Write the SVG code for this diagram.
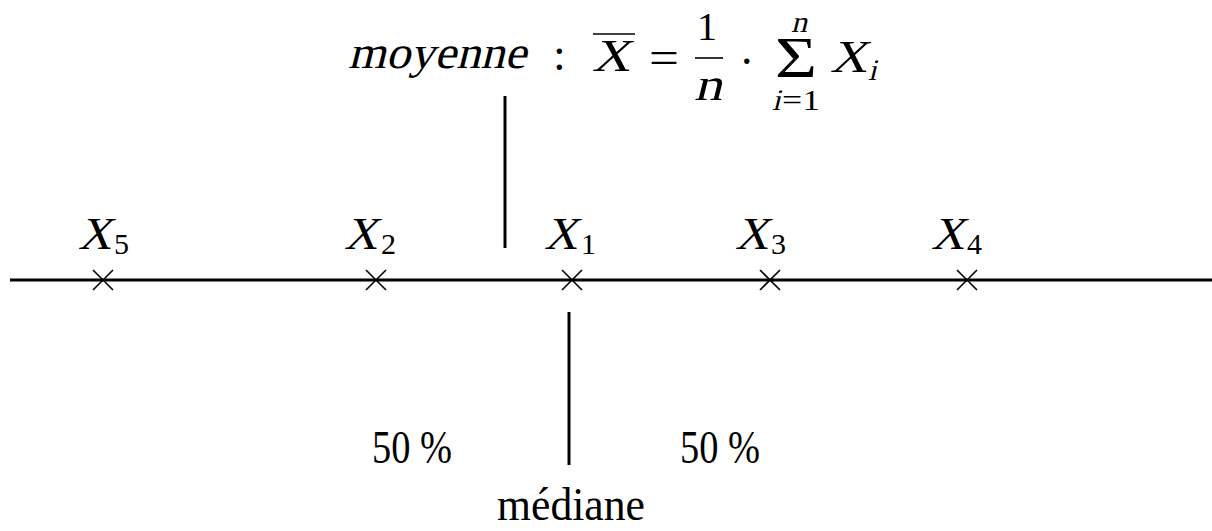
<svg xmlns="http://www.w3.org/2000/svg" width="1212" height="531" viewBox="0 0 1212 531">
<style>
.t{font-family:"Liberation Serif","Times New Roman",serif;fill:#000;font-style:normal}
.ln{stroke:#000;stroke-width:3;fill:none}
.thin{stroke:#000;stroke-width:1.6;fill:none}
.cr{stroke:#000;stroke-width:1.6;fill:none}
.big{font-size:46px}
.sub{font-size:30px}
</style>
<defs>
<path id="cross" d="M-10,-10 L10,10 M-10,10 L10,-10"/>
</defs>
<rect width="1212" height="531" fill="#fff"/>
<g id="connectors">
<line class="ln" x1="10" y1="280" x2="1212" y2="280"/>
<line class="ln" x1="505" y1="96" x2="505" y2="248"/>
<line class="ln" x1="569" y1="312" x2="569" y2="465"/>
</g>
<g id="formula">
<text class="t big" transform="translate(348,68) skewX(-14)" x="0" y="0" textLength="178" lengthAdjust="spacingAndGlyphs">moyenne</text>
<text class="t big" x="553" y="70">:</text>
<line class="thin" x1="593" y1="34" x2="635" y2="34"/>
<text class="t big" transform="translate(592,71) skewX(-14)" x="0" y="0" textLength="38" lengthAdjust="spacingAndGlyphs">X</text>
<text class="t big" x="649" y="73" textLength="30" lengthAdjust="spacingAndGlyphs">=</text>
<text class="t" x="697" y="40" font-size="41" textLength="20" lengthAdjust="spacingAndGlyphs">1</text>
<line class="thin" x1="695" y1="58" x2="723" y2="58"/>
<text class="t big" transform="translate(694,100) skewX(-14)" x="0" y="0" textLength="28" lengthAdjust="spacingAndGlyphs">n</text>
<text class="t big" x="741" y="64">.</text>
<text class="t" x="775" y="77" font-size="58" textLength="42" lengthAdjust="spacingAndGlyphs">Σ</text>
<text class="t sub" transform="translate(791,32) skewX(-14)" x="0" y="0" textLength="16" lengthAdjust="spacingAndGlyphs">n</text>
<text class="t sub" transform="translate(772,110) skewX(-14)" x="0" y="0">i</text>
<text class="t sub" x="782" y="110" textLength="38" lengthAdjust="spacingAndGlyphs">=1</text>
<text class="t big" transform="translate(830,72) skewX(-14)" x="0" y="0" textLength="37" lengthAdjust="spacingAndGlyphs">X</text>
<text class="t sub" transform="translate(868,80) skewX(-14)" x="0" y="0">i</text>
</g>
<g id="p5"><use href="#cross" class="cr" x="103" y="280"/><text class="t big" transform="translate(78,249) skewX(-14)" x="0" y="0">X</text><text class="t sub" x="114" y="254">5</text></g>
<g id="p2"><use href="#cross" class="cr" x="376" y="280"/><text class="t big" transform="translate(344,249) skewX(-14)" x="0" y="0">X</text><text class="t sub" x="381" y="254">2</text></g>
<g id="p1"><use href="#cross" class="cr" x="572" y="280"/><text class="t big" transform="translate(544,249) skewX(-14)" x="0" y="0">X</text><text class="t sub" x="581" y="254">1</text></g>
<g id="p3"><use href="#cross" class="cr" x="770" y="280"/><text class="t big" transform="translate(735,249) skewX(-14)" x="0" y="0">X</text><text class="t sub" x="771" y="254">3</text></g>
<g id="p4"><use href="#cross" class="cr" x="967" y="280"/><text class="t big" transform="translate(931,249) skewX(-14)" x="0" y="0">X</text><text class="t sub" x="967" y="254">4</text></g>
<g id="labels">
<text class="t big" x="372" y="463" textLength="80" lengthAdjust="spacingAndGlyphs">50 %</text>
<text class="t big" x="680" y="463" textLength="80" lengthAdjust="spacingAndGlyphs">50 %</text>
<text class="t big" x="497" y="520" textLength="148" lengthAdjust="spacingAndGlyphs">médiane</text>
</g>
</svg>
